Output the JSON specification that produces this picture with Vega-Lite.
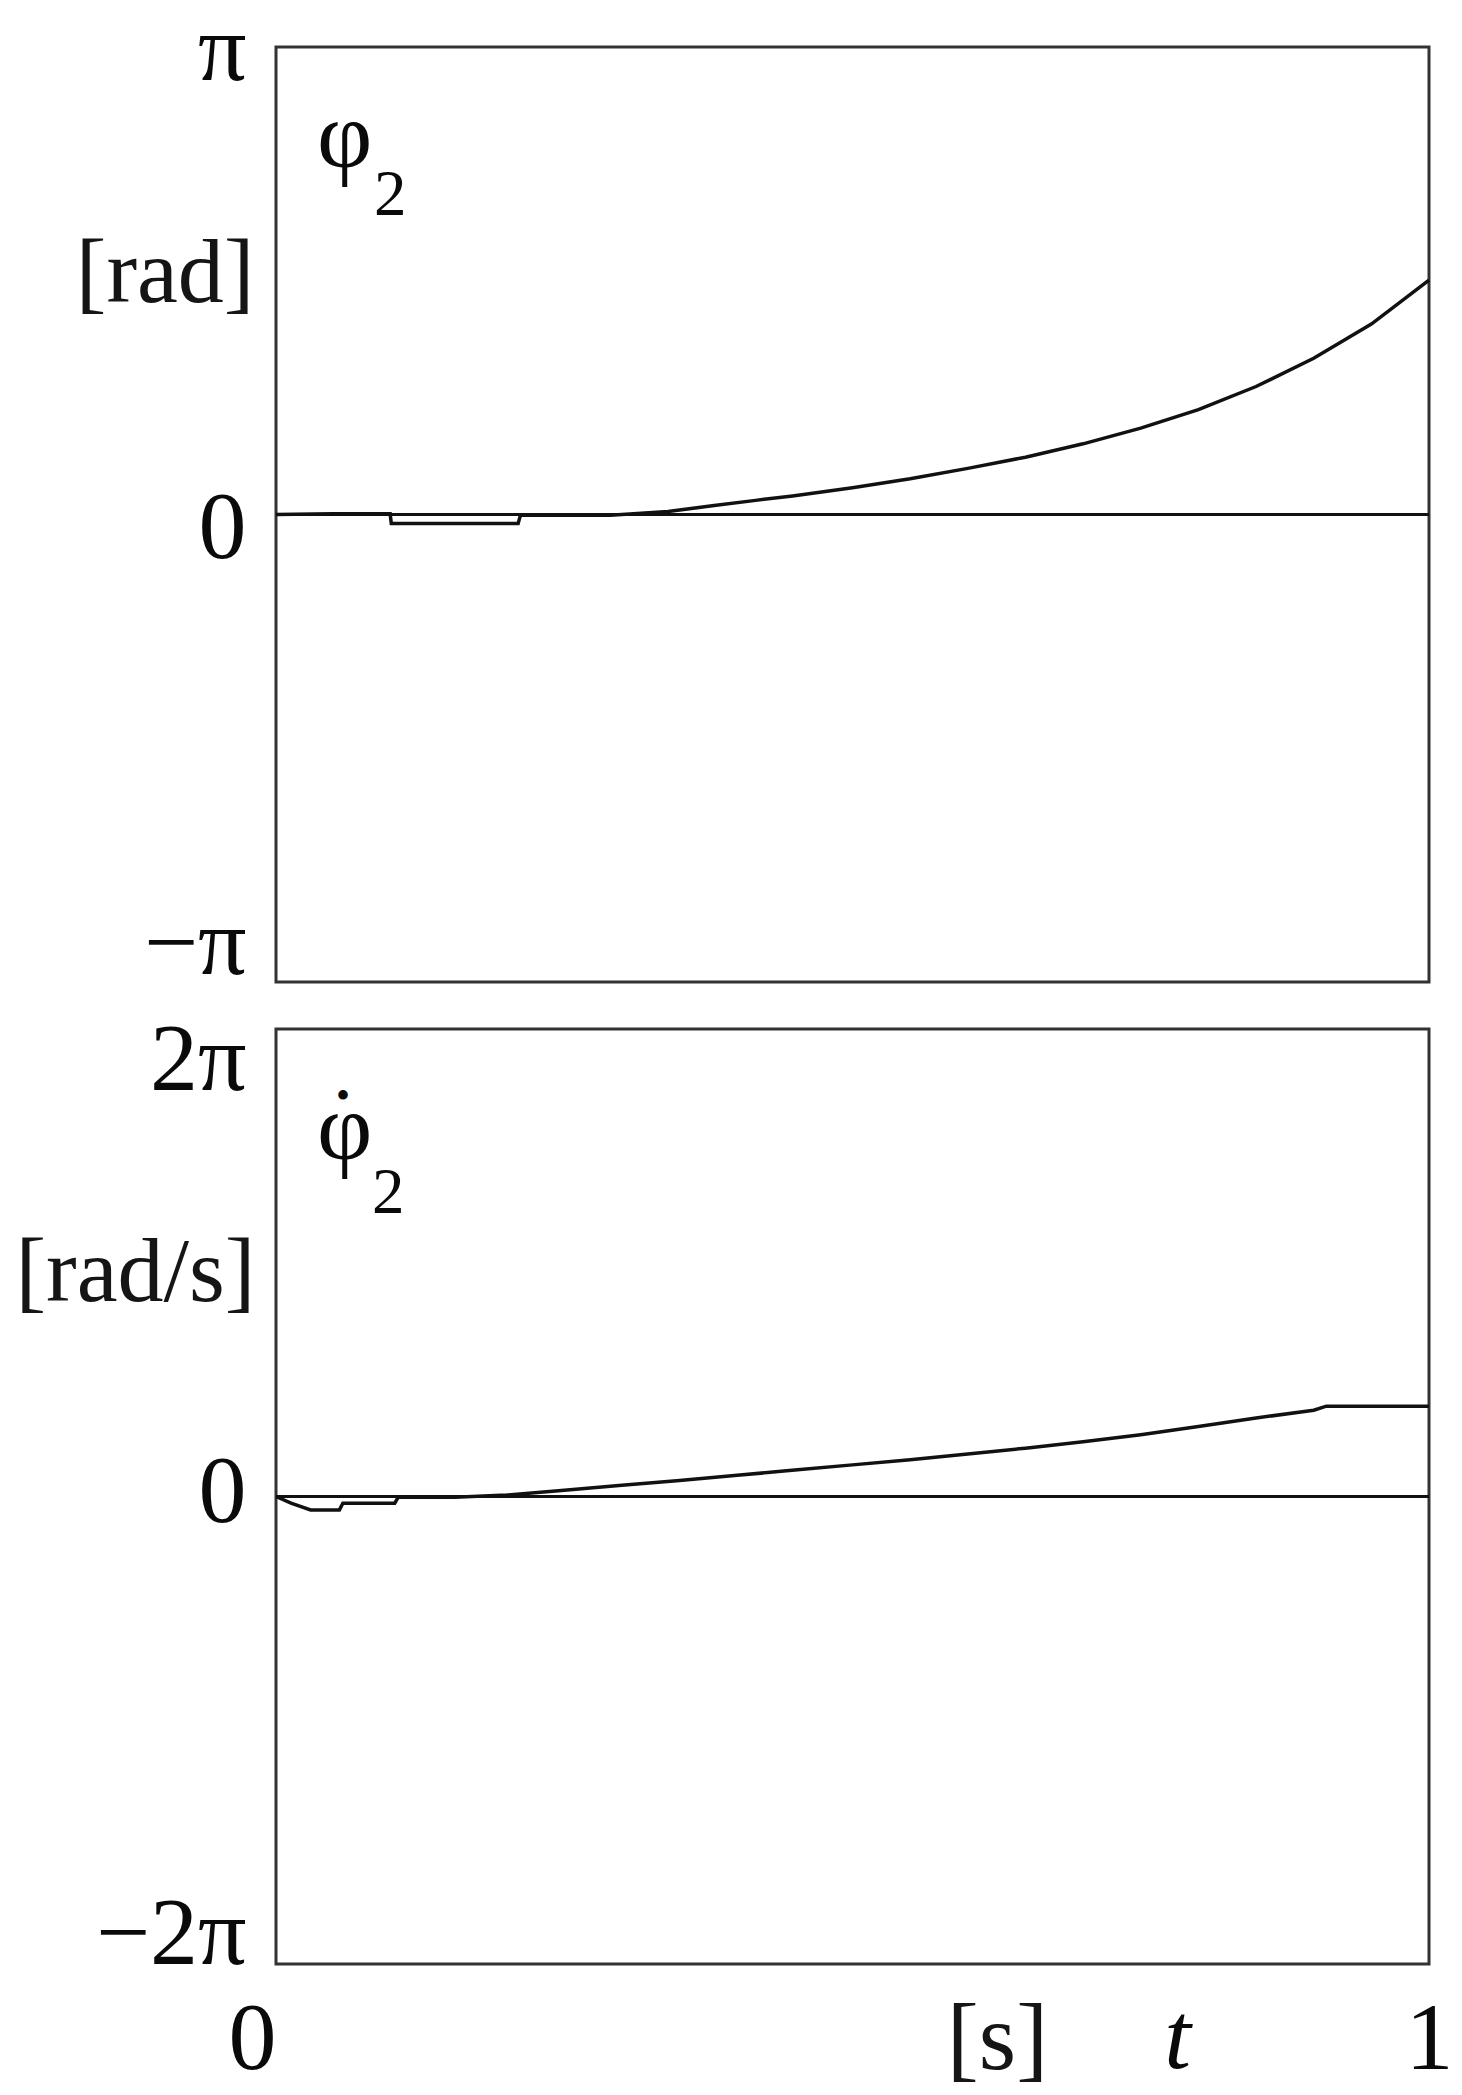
{
  "$schema": "https://vega.github.io/schema/vega-lite/v6.json",
  "background": "white",
  "autosize": {"type": "pad"},
  "padding": {"left": 13, "top": 0, "right": 10, "bottom": 0},
  "spacing": 16,
  "config": {
    "font": "Liberation Serif",
    "view": {"stroke": "#333333", "strokeWidth": 3},
    "axis": {
      "domain": false,
      "grid": false,
      "ticks": false,
      "tickSize": 0,
      "labelFont": "Liberation Serif",
      "labelFontSize": 96,
      "labelColor": "#0a0a0a",
      "labelFlush": false,
      "labelOverlap": false,
      "titleFont": "Liberation Serif",
      "titleFontSize": 92,
      "titleFontWeight": "normal",
      "titleColor": "#151515"
    },
    "text": {"font": "Liberation Serif", "color": "#0a0a0a"}
  },
  "datasets": {
    "one": [{"item": "label"}],
    "phi": [
      {"t": 0.0, "phi": 0.0},
      {"t": 0.05, "phi": 0.005},
      {"t": 0.099, "phi": 0.005},
      {"t": 0.1, "phi": -0.06},
      {"t": 0.21, "phi": -0.06},
      {"t": 0.212, "phi": -0.005},
      {"t": 0.29, "phi": -0.005},
      {"t": 0.34, "phi": 0.02},
      {"t": 0.38, "phi": 0.06},
      {"t": 0.416, "phi": 0.095},
      {"t": 0.448, "phi": 0.125},
      {"t": 0.5, "phi": 0.18},
      {"t": 0.55, "phi": 0.24},
      {"t": 0.6, "phi": 0.31},
      {"t": 0.65, "phi": 0.385},
      {"t": 0.7, "phi": 0.475},
      {"t": 0.75, "phi": 0.58},
      {"t": 0.8, "phi": 0.705},
      {"t": 0.85, "phi": 0.86},
      {"t": 0.9, "phi": 1.05},
      {"t": 0.95, "phi": 1.28},
      {"t": 1.0, "phi": 1.575}
    ],
    "dphi": [
      {"t": 0.0, "dphi": 0.0},
      {"t": 0.013, "dphi": -0.09},
      {"t": 0.03, "dphi": -0.18},
      {"t": 0.055, "dphi": -0.18},
      {"t": 0.058, "dphi": -0.09},
      {"t": 0.103, "dphi": -0.09},
      {"t": 0.106, "dphi": -0.01},
      {"t": 0.155, "dphi": -0.01},
      {"t": 0.2, "dphi": 0.02},
      {"t": 0.25, "dphi": 0.085},
      {"t": 0.3, "dphi": 0.15},
      {"t": 0.35, "dphi": 0.215},
      {"t": 0.4, "dphi": 0.285},
      {"t": 0.45, "dphi": 0.355},
      {"t": 0.5, "dphi": 0.425},
      {"t": 0.55, "dphi": 0.495},
      {"t": 0.6, "dphi": 0.57},
      {"t": 0.65, "dphi": 0.65},
      {"t": 0.7, "dphi": 0.735},
      {"t": 0.75, "dphi": 0.83},
      {"t": 0.8, "dphi": 0.94},
      {"t": 0.85, "dphi": 1.055},
      {"t": 0.9, "dphi": 1.16},
      {"t": 0.911, "dphi": 1.214},
      {"t": 1.0, "dphi": 1.214}
    ]
  },
  "vconcat": [
    {
      "width": 1153,
      "height": 935,
      "layer": [
        {
          "data": {"name": "one"},
          "mark": {"type": "rule", "color": "#111111", "strokeWidth": 3},
          "encoding": {"y": {"datum": 0, "type": "quantitative"}}
        },
        {
          "data": {"name": "phi"},
          "mark": {"type": "line", "color": "#111111", "strokeWidth": 3.5},
          "encoding": {
            "x": {"field": "t", "type": "quantitative", "scale": {"domain": [0, 1], "nice": false, "zero": false}, "axis": null},
            "y": {
              "field": "phi", "type": "quantitative",
              "scale": {"domain": [-3.14159265, 3.14159265], "nice": false},
              "axis": {
                "values": [-3.14159265, 0, 3.14159265],
                "labelExpr": "datum.value > 1 ? 'π' : (datum.value < -1 ? '−π' : '0')",
                "labelBaseline": "alphabetic",
                "labelPadding": 30,
                "labelOffset": {"condition": [{"test": "datum.value > 1", "value": 32}, {"test": "datum.value < -1", "value": -9}], "value": 43},
                "title": "[rad]",
                "titleAngle": 0,
                "titleAlign": "right",
                "titleBaseline": "alphabetic",
                "titleX": -22,
                "titleY": 254
              }
            }
          }
        },
        {
          "data": {"name": "one"},
          "mark": {"type": "text", "text": "φ", "fontSize": 96, "align": "left", "baseline": "alphabetic", "dx": 41, "dy": 120},
          "encoding": {"x": {"datum": 0, "type": "quantitative"}, "y": {"datum": 3.14159265, "type": "quantitative"}}
        },
        {
          "data": {"name": "one"},
          "mark": {"type": "text", "text": "2", "fontSize": 65, "align": "left", "baseline": "alphabetic", "dx": 98, "dy": 168},
          "encoding": {"x": {"datum": 0, "type": "quantitative"}, "y": {"datum": 3.14159265, "type": "quantitative"}}
        }
      ]
    },
    {
      "width": 1153,
      "height": 935,
      "layer": [
        {
          "data": {"name": "one"},
          "mark": {"type": "rule", "color": "#111111", "strokeWidth": 3},
          "encoding": {"y": {"datum": 0, "type": "quantitative"}}
        },
        {
          "data": {"name": "dphi"},
          "mark": {"type": "line", "color": "#111111", "strokeWidth": 3.5},
          "encoding": {
            "x": {
              "field": "t", "type": "quantitative",
              "scale": {"domain": [0, 1], "nice": false, "zero": false},
              "axis": {
                "values": [0, 1],
                "labelExpr": "datum.value < 0.5 ? '0' : '1'",
                "labelAlign": {"condition": {"test": "datum.value < 0.5", "value": "right"}, "value": "center"},
                "labelBaseline": "alphabetic",
                "labelPadding": 104,
                "title": "[s]",
                "titleFontSize": 96,
                "titleAlign": "center",
                "titleBaseline": "alphabetic",
                "titleX": 721,
                "titleY": 104
              }
            },
            "y": {
              "field": "dphi", "type": "quantitative",
              "scale": {"domain": [-6.28318531, 6.28318531], "nice": false},
              "axis": {
                "values": [-6.28318531, 0, 6.28318531],
                "labelExpr": "datum.value > 1 ? '2π' : (datum.value < -1 ? '−2π' : '0')",
                "labelBaseline": "alphabetic",
                "labelPadding": 30,
                "labelOffset": {"condition": [{"test": "datum.value > 1", "value": 60}, {"test": "datum.value < -1", "value": -1}], "value": 25},
                "title": "[rad/s]",
                "titleAngle": 0,
                "titleAlign": "right",
                "titleBaseline": "alphabetic",
                "titleX": -21,
                "titleY": 271
              }
            }
          }
        },
        {
          "data": {"name": "one"},
          "mark": {"type": "text", "text": "φ", "fontSize": 96, "align": "left", "baseline": "alphabetic", "dx": 41, "dy": 130},
          "encoding": {"x": {"datum": 0, "type": "quantitative"}, "y": {"datum": 6.28318531, "type": "quantitative"}}
        },
        {
          "data": {"name": "one"},
          "mark": {"type": "text", "text": "•", "fontSize": 40, "align": "center", "baseline": "alphabetic", "dx": 67, "dy": 80},
          "encoding": {"x": {"datum": 0, "type": "quantitative"}, "y": {"datum": 6.28318531, "type": "quantitative"}}
        },
        {
          "data": {"name": "one"},
          "mark": {"type": "text", "text": "2", "fontSize": 65, "align": "left", "baseline": "alphabetic", "dx": 96, "dy": 184},
          "encoding": {"x": {"datum": 0, "type": "quantitative"}, "y": {"datum": 6.28318531, "type": "quantitative"}}
        },
        {
          "data": {"name": "one"},
          "mark": {"type": "text", "text": "t", "fontSize": 96, "fontStyle": "italic", "align": "center", "baseline": "alphabetic", "dy": 104},
          "encoding": {"x": {"datum": 0.782, "type": "quantitative"}, "y": {"datum": -6.28318531, "type": "quantitative"}}
        }
      ]
    }
  ]
}
